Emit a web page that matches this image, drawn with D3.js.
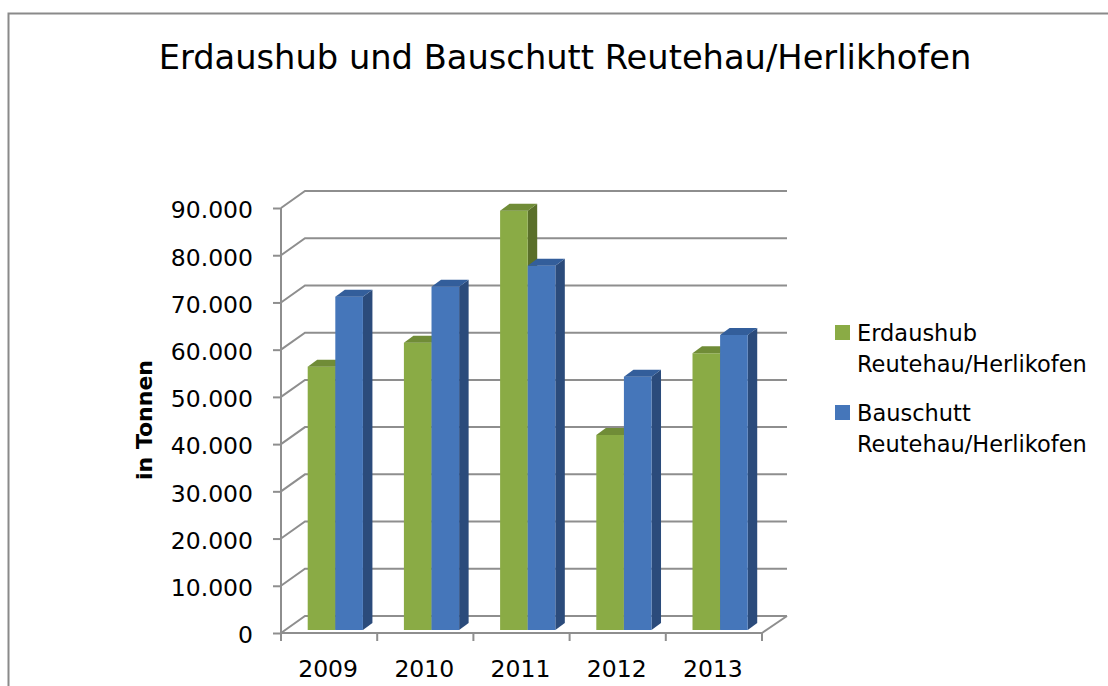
<!DOCTYPE html>
<html>
<head>
<meta charset="utf-8">
<script src="https://cdn.jsdelivr.net/npm/d3@7"></script>
<style>
  html, body { margin: 0; padding: 0; background: #fff; }
  svg { display: block; font-family: "DejaVu Sans", sans-serif; }
</style>
</head>
<body>
<svg id="chart" width="1108" height="686"></svg>
<script>
const categories = ["2009", "2010", "2011", "2012", "2013"];
const erdaushub = [55760, 60840, 88800, 41300, 58600];
const bauschutt = [70590, 72700, 77150, 53640, 62470];
const yTicks = [0, 10000, 20000, 30000, 40000, 50000, 60000, 70000, 80000, 90000];
const seriesNames = [["Erdaushub", "Reutehau/Herlikofen"], ["Bauschutt", "Reutehau/Herlikofen"]];
const titleText = "Erdaushub und Bauschutt Reutehau/Herlikhofen";
const axisTitle = "in Tonnen";

const svg = d3.select("#chart");
const fmt = d3.formatLocale({decimal: ",", thousands: ".", grouping: [3], currency: ["", "€"]}).format(",.0f");

// frame
svg.append("path").attr("d", "M8.5,690 L8.5,13.5 L1112,13.5")
  .attr("fill", "none").attr("stroke", "#8a8a8a").attr("stroke-width", 2);

// title
svg.append("text").attr("x", 565).attr("y", 69).attr("text-anchor", "middle")
  .attr("font-size", 33.7).attr("fill", "#000").text(titleText);

const x = d3.scaleBand().domain(categories).range([281, 762]);
const y = d3.scaleLinear().domain([0, 90000]).range([633, 208]);
const DX = 24, DY = -17;
const gridColor = "#8e8e8e";

// back wall gridlines with left-wall diagonals
const g = svg.append("g");
yTicks.forEach(t => {
  const yy = y(t);
  g.append("path")
    .attr("d", `M${x.range()[0]},${yy} L${x.range()[0] + DX},${yy + DY} L${x.range()[1] + DX + 1},${yy + DY}`)
    .attr("fill", "none").attr("stroke", gridColor).attr("stroke-width", 2);
});
// floor right edge
g.append("path")
  .attr("d", `M${x.range()[1]},${y(0)} L${x.range()[1] + DX + 1},${y(0) + DY}`)
  .attr("fill", "none").attr("stroke", gridColor).attr("stroke-width", 2);

// y axis
const yAxis = d3.axisLeft(y).tickValues(yTicks).tickSize(8).tickFormat(fmt);
const ya = svg.append("g").attr("transform", `translate(${x.range()[0]},0)`).call(yAxis);
ya.select(".domain").attr("stroke", gridColor).attr("stroke-width", 2).attr("d", `M0,${y(0)}V${y(90000)}`);
ya.selectAll(".tick line").attr("stroke", gridColor).attr("stroke-width", 2);
ya.selectAll(".tick text").attr("x", -28).attr("dy", "0.42em")
  .attr("font-family", "DejaVu Sans").attr("font-size", 23.5).attr("fill", "#000");

// x axis
const xa = svg.append("g").attr("transform", `translate(0,${y(0)})`);
xa.append("line").attr("x1", x.range()[0]).attr("x2", x.range()[1])
  .attr("stroke", gridColor).attr("stroke-width", 2);
const bounds = categories.map(c => x(c)).concat([x.range()[1]]);
xa.selectAll("line.tk").data(bounds).enter().append("line").attr("class", "tk")
  .attr("x1", d => d).attr("x2", d => d).attr("y1", 0).attr("y2", 8)
  .attr("stroke", gridColor).attr("stroke-width", 2);
xa.selectAll("text").data(categories).enter().append("text")
  .attr("x", d => x(d) + x.bandwidth() / 2 - 1).attr("y", 44)
  .attr("text-anchor", "middle").attr("font-size", 23.5).attr("fill", "#000").text(d => d);

// bars
const bw = x.bandwidth();
const OX = 4, OY = -3;       // front plane of bars
const BDX = 9.5, BDY = -7;   // bar depth
const seriesDefs = [
  {vals: erdaushub, off: 0.236, front: "#8aab45", top: "#708c37", side: "#5a6f2a"},
  {vals: bauschutt, off: 0.236 + 0.287, front: "#4576ba", top: "#335e9b", side: "#2b4b7b"}
];
const barW = 0.287 * bw;
const bars = svg.append("g");
categories.forEach((c, i) => {
  seriesDefs.forEach(s => {
    const x0 = x(c) + s.off * bw + OX;
    const x1 = x0 + barW;
    const yb = y(0) + OY;
    const yt = y(s.vals[i]) + OY;
    bars.append("path").attr("d", `M${x1},${yb} L${x1 + BDX},${yb + BDY} L${x1 + BDX},${yt + BDY} L${x1},${yt} Z`)
      .attr("fill", s.side);
    bars.append("rect").attr("x", x0).attr("y", yt).attr("width", barW).attr("height", yb - yt)
      .attr("fill", s.front);
    bars.append("path").attr("d", `M${x0},${yt} L${x0 + BDX},${yt + BDY} L${x1 + BDX},${yt + BDY} L${x1},${yt} Z`)
      .attr("fill", s.top);
  });
});

// axis title
svg.append("text").attr("transform", "translate(152,420) rotate(-90)")
  .attr("text-anchor", "middle").attr("font-size", 22).attr("font-weight", "bold")
  .attr("fill", "#000").text(axisTitle);

// legend
const legendColors = [seriesDefs[0].front, seriesDefs[1].front];
const legendTops = [325, 405];
const lg = svg.append("g");
seriesNames.forEach((lines, i) => {
  lg.append("rect").attr("x", 835).attr("y", legendTops[i]).attr("width", 15).attr("height", 15)
    .attr("fill", legendColors[i]);
  lines.forEach((ln, j) => {
    lg.append("text").attr("x", 857).attr("y", legendTops[i] + 16 + j * 31)
      .attr("font-size", 22.5).attr("fill", "#000").text(ln);
  });
});
</script>
</body>
</html>
